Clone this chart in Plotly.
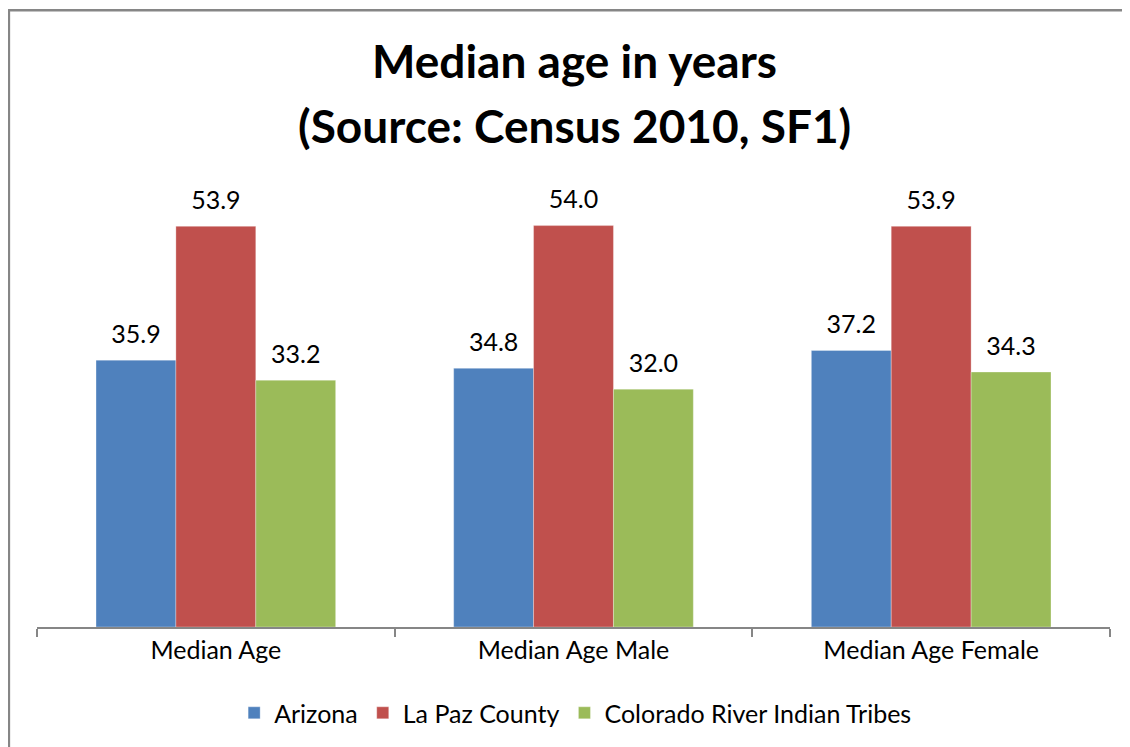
import plotly.graph_objects as go

categories = ["Median Age", "Median Age Male", "Median Age Female"]
arizona = [35.9, 34.8, 37.2]
la_paz = [53.9, 54.0, 53.9]
crit = [33.2, 32.0, 34.3]

series = [
    ("Arizona", arizona, "#4F81BD"),
    ("La Paz County", la_paz, "#C0504D"),
    ("Colorado River Indian Tribes", crit, "#9BBB59"),
]

title_lines = ["Median age in years", "(Source: Census 2010, SF1)"]

FONT = "Lato"

fig = go.Figure()
for name, vals, color in series:
    fig.add_trace(go.Bar(
        x=categories, y=vals, name=name, offsetgroup=name,
        marker=dict(color=color, line=dict(color="rgba(255,255,255,0.6)", width=0.5)),
    ))
# value labels: invisible markers give the gap above each bar
for name, vals, color in series:
    fig.add_trace(go.Scatter(
        x=categories, y=vals, name=name, offsetgroup=name, mode="markers+text",
        marker=dict(size=16, opacity=0),
        text=[f"{v:.1f}" for v in vals], textposition="top center",
        textfont=dict(size=25, color="#000000", family=FONT),
        showlegend=False, hoverinfo="skip", cliponaxis=False,
    ))

# page is drawn with an 8px offset, so margins are shifted by that
fig.update_layout(
    width=1130, height=747,
    margin=dict(l=29, r=28, t=173, b=128, autoexpand=False),
    paper_bgcolor="white", plot_bgcolor="white",
    barmode="group", bargap=0.33, bargroupgap=0,
    scattermode="group", scattergap=0.33,
    legend=dict(
        orientation="h", x=0.502, xanchor="center", y=-0.193, yanchor="middle",
        font=dict(size=25, color="#000000", family=FONT),
        traceorder="normal",
    ),
    showlegend=True,
)
fig.update_xaxes(
    showline=True, linecolor="#868686", linewidth=2,
    ticks="outside", tickson="boundaries", ticklen=8, tickcolor="#868686", tickwidth=2,
    tickfont=dict(size=25, color="#000000", family=FONT),
    showgrid=False, automargin=False,
)
fig.update_yaxes(range=[0, 60], visible=False, showgrid=False, automargin=False)

for txt, yy in zip(title_lines, [1.27, 1.125]):
    fig.add_annotation(text="<b>" + txt + "</b>", xref="paper", yref="paper",
                       x=0.5005, y=yy, xanchor="center", yanchor="middle",
                       showarrow=False, font=dict(size=46, color="#000000", family=FONT))

# chart border (left and top edges visible)
fig.add_shape(type="line", xref="paper", yref="paper",
              x0=-0.0262, x1=-0.0262, y0=-0.30, y1=1.383,
              line=dict(color="#868686", width=2.5))
fig.add_shape(type="line", xref="paper", yref="paper",
              x0=-0.027, x1=1.03, y0=1.383, y1=1.383,
              line=dict(color="#868686", width=2.5))

fig.write_html("out.html")
